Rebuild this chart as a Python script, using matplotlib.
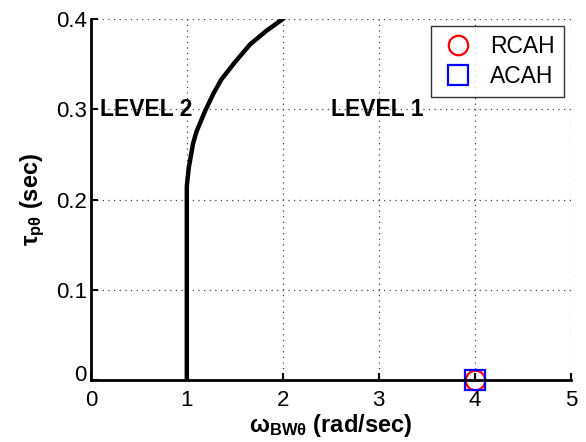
import numpy as np
import matplotlib.pyplot as plt
import matplotlib.transforms as mtransforms

plt.rcParams['font.family'] = ['Liberation Sans', 'DejaVu Sans']
plt.rcParams['mathtext.fontset'] = 'custom'
plt.rcParams['mathtext.rm'] = 'Liberation Sans'
plt.rcParams['mathtext.it'] = 'Liberation Sans'
plt.rcParams['mathtext.bf'] = 'Liberation Sans:bold'

# Level 1/2 boundary
bw_boundary = [1.0, 1.0, 1.0, 1.02, 1.065, 1.1, 1.19, 1.28, 1.36, 1.5, 1.66, 1.83, 2.0]
tau_boundary = [0.0, 0.1, 0.215, 0.235, 0.262, 0.275, 0.298, 0.318, 0.333, 0.352, 0.372, 0.387, 0.4]

# configurations
rcah_bw = [4.0]
rcah_tau = [0.0]
acah_bw = [4.0]
acah_tau = [0.0]

fig = plt.figure(figsize=(5.86, 4.42), dpi=100)
ax = fig.add_axes([0.155, 0.14, 0.819, 0.817])

ax.plot(bw_boundary, tau_boundary, 'k-', lw=3.2)
ax.plot(rcah_bw, rcah_tau, 'o', ms=14, mfc='none', mec='red', mew=1.6, label='RCAH', clip_on=False)
ax.plot(acah_bw, acah_tau, 's', ms=14, mfc='none', mec='blue', mew=1.6, label='ACAH', clip_on=False)

ax.text(0.1, 0.3, 'LEVEL 2', fontsize=16.5, fontweight='bold', va='center')
ax.text(2.5, 0.3, 'LEVEL 1', fontsize=16.5, fontweight='bold', va='center')

ax.set_xlim(0, 5)
ax.set_ylim(0, 0.4)
ax.set_xticks([0, 1, 2, 3, 4, 5])
ax.set_yticks([0, 0.1, 0.2, 0.3, 0.4])
ax.set_yticklabels(['0', '0.1', '0.2', '0.3', '0.4'])
ax.grid(True, ls=(0, (1, 3.5)), color='#444444', lw=0.9)
ax.tick_params(direction='in', labelsize=16, width=1.5, length=5)
ax.tick_params(axis='x', pad=7)
ax.tick_params(axis='y', pad=3)
# lift the y-axis zero a little, away from the x-axis zero
zero_lbl = ax.get_yticklabels()[0]
zero_lbl.set_transform(zero_lbl.get_transform() +
                       mtransforms.ScaledTranslation(0, 5 / 72, fig.dpi_scale_trans))
for s in ['top', 'right']:
    ax.spines[s].set_visible(False)
for s in ['left', 'bottom']:
    ax.spines[s].set_linewidth(2)

ax.set_xlabel(r'$\mathbf{\omega_{BW\theta}}$ (rad/sec)', fontsize=17, fontweight='bold', labelpad=1)
ax.set_ylabel(r'$\mathbf{\tau_{p\theta}}$ (sec)', fontsize=17, fontweight='bold', labelpad=6)

leg = ax.legend(loc='upper right', fontsize=16.5, fancybox=False, edgecolor='k',
                borderaxespad=0.3, handletextpad=0.6, handlelength=1.6,
                labelspacing=0.3, numpoints=1)
leg.get_frame().set_linewidth(1)

fig.savefig('out.png', dpi=100)
